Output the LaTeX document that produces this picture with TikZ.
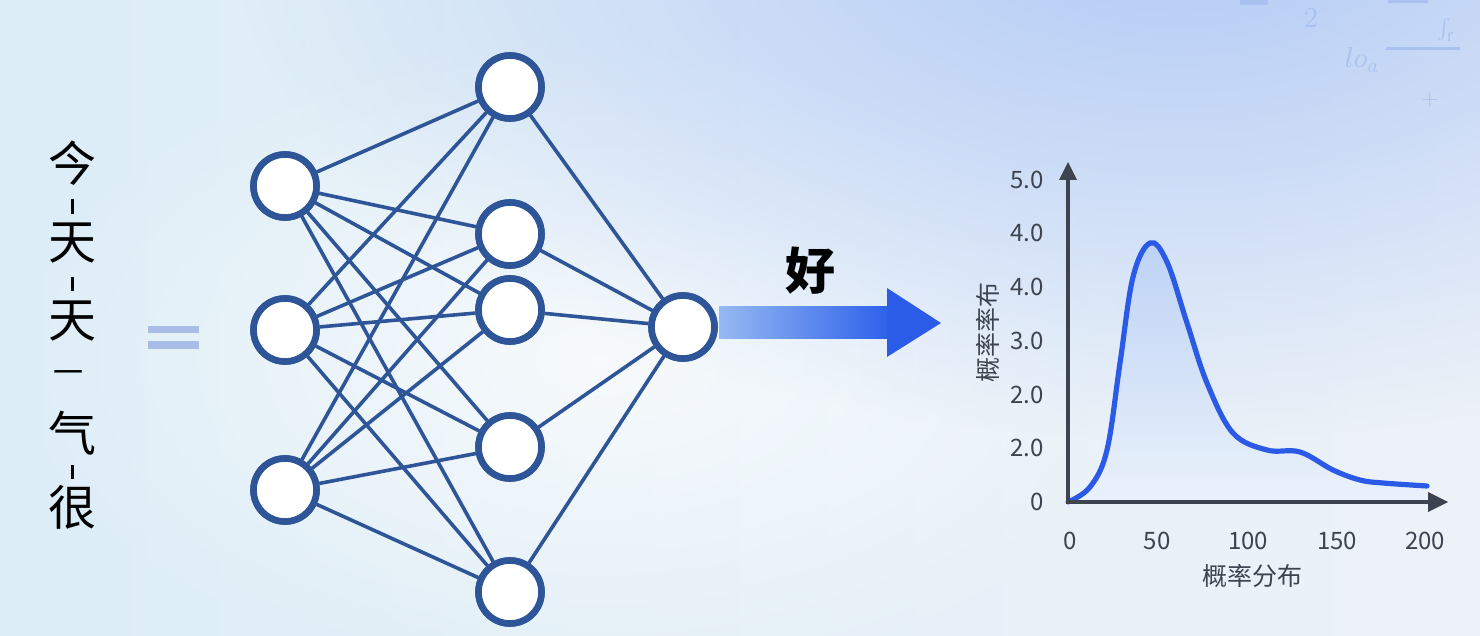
\documentclass[tikz,border=0pt]{standalone}
\usepackage{fontspec}
\setmainfont{Noto Sans CJK SC}
\usetikzlibrary{fadings,shapes.geometric}
\definecolor{netblue}{HTML}{2D5597}
\definecolor{axisgray}{HTML}{3D4450}
\definecolor{curveblue}{HTML}{2B5BE6}
\definecolor{eqblue}{HTML}{A8BEE6}
\definecolor{faintmath}{HTML}{A8C1EF}
\definecolor{bgleft}{HTML}{DCEDF7}
\definecolor{bgright}{HTML}{EDF2F8}
\definecolor{bgblue}{HTML}{B2CAF6}
\definecolor{shaftlight}{HTML}{96B9F3}
\definecolor{shaftdark}{HTML}{2D61EA}
\definecolor{headblue}{HTML}{2A5CE8}
\definecolor{filltop}{HTML}{BDD2F5}
\definecolor{fillbot}{HTML}{EAF2FB}
\tikzfading[name=glow, inner color=transparent!0, outer color=transparent!100]
\begin{document}
\begin{tikzpicture}[x=0.5pt,y=-0.5pt,
  neuron/.style={circle,draw=netblue,line width=3.3pt,fill=white,minimum size=31.5pt,inner sep=0pt},
  link/.style={draw=netblue,line width=1.8pt},
  word/.style={font=\fontsize{24}{24}\selectfont,text=black,inner sep=0pt},
  ticklab/.style={font=\fontsize{12}{12}\selectfont,text=axisgray,inner sep=0pt},
  axislab/.style={font=\fontsize{12.5}{12.5}\selectfont,text=axisgray,inner sep=0pt}]
\useasboundingbox (0,0) rectangle (1480,636);
% background
\shade[left color=bgleft, right color=bgright] (0,0) rectangle (1480,636);
\fill[white,opacity=0.7,path fading=glow] (600,360) ellipse (600 and 330);
\fill[bgblue,path fading=glow] (1180,-80) ellipse (950 and 520);
% faint math decoration
\fill[faintmath] (1240,0) rectangle (1268,5);
\node[text=faintmath,font=\fontsize{14}{14}\selectfont] (m2) at (1311,18) {$2$};
\fill[faintmath] (1388,0) rectangle (1428,3);
\node[text=faintmath,font=\fontsize{12}{12}\selectfont,inner sep=0pt,anchor=north] (mint) at (1446,18) {$\int_{\mathrm{r}}$};
\node[text=faintmath,font=\fontsize{14}{14}\selectfont] (mlog) at (1362,60) {$lo_a$};
\fill[faintmath] (1386,47) rectangle (1460,50);
\node[text=faintmath,font=\fontsize{11}{11}\selectfont] (mplus) at (1430,100) {$+$};
% left vertical text
\node[word] (c1) at (72,163) {今};
\fill[black] (70.5,199) rectangle (73.5,214);
\node[word] (c2) at (72,243) {天};
\fill[black] (70.5,277) rectangle (73.5,291);
\node[word] (c3) at (72,321) {天};
\node[word,font=\fontsize{15}{15}\selectfont] (c4) at (69,377) {一};
\node[word] (c5) at (72,433) {气};
\fill[black] (70.5,465) rectangle (73.5,479);
\node[word] (c6) at (72,507) {很};
% equals
\fill[eqblue] (148,326) rectangle (199,333);
\fill[eqblue] (148,341) rectangle (199,349);
% network nodes
\node[neuron] (i1) at (285,186) {};
\node[neuron] (i2) at (285,330) {};
\node[neuron] (i3) at (285,490) {};
\node[neuron] (h1) at (510,87) {};
\node[neuron] (h2) at (510,234) {};
\node[neuron] (h3) at (510,310) {};
\node[neuron] (h4) at (510,447) {};
\node[neuron] (h5) at (510,592) {};
\node[neuron] (o) at (683,327) {};
\foreach \i in {i1,i2,i3}{
  \foreach \h in {h1,h2,h3,h4,h5}{
    \draw[link] (\i) -- (\h);
  }
}
\foreach \h in {h1,h2,h3,h4,h5}{
  \draw[link] (\h) -- (o);
}
% redraw nodes on top
\node[neuron] at (285,186) {};
\node[neuron] at (285,330) {};
\node[neuron] at (285,490) {};
\node[neuron] at (510,87) {};
\node[neuron] at (510,234) {};
\node[neuron] at (510,310) {};
\node[neuron] at (510,447) {};
\node[neuron] at (510,592) {};
\node[neuron] at (683,327) {};
% output arrow
\coordinate (atip) at (941,323);
\shade[left color=shaftlight, right color=shaftdark] (719,307) rectangle (889,339);
\fill[headblue] (887,288) -- (atip) -- (887,357) -- cycle;
\node[font=\fontsize{25}{25}\selectfont\bfseries,inner sep=0pt] (good) at (810,271) {好};
% chart
\coordinate (org) at (1068,502);
\coordinate (ytop) at (1068,162);
\coordinate (xend) at (1448,502);
\shade[top color=filltop, bottom color=fillbot]
  plot[smooth,tension=0.6] coordinates {(1068,502) (1090,487) (1107,450) (1120,363) (1133,277) (1150,243) (1167,262) (1187,323) (1207,383) (1233,433) (1267,450) (1300,452) (1333,470) (1360,480) (1383,483) (1427,486)} -- (1427,502) -- cycle;
\draw[curveblue,line width=2.6pt,line cap=round] plot[smooth,tension=0.6] coordinates {(1068,502) (1090,487) (1107,450) (1120,363) (1133,277) (1150,243) (1167,262) (1187,323) (1207,383) (1233,433) (1267,450) (1300,452) (1333,470) (1360,480) (1383,483) (1427,486)};
\draw[axisgray,line width=2pt] (org) -- (1068,178);
\fill[axisgray] (1059,180) -- (ytop) -- (1077,180) -- cycle;
\draw[axisgray,line width=2pt] (1066,502) -- (1430,502);
\fill[axisgray] (1428,492) -- (xend) -- (1428,512) -- cycle;
% y ticks
\node[ticklab,anchor=east] (y50) at (1044,180) {5.0};
\node[ticklab,anchor=east] (y40a) at (1044,233) {4.0};
\node[ticklab,anchor=east] (y40b) at (1044,287) {4.0};
\node[ticklab,anchor=east] (y30) at (1044,341) {3.0};
\node[ticklab,anchor=east] (y20a) at (1044,395) {2.0};
\node[ticklab,anchor=east] (y20b) at (1044,448) {2.0};
\node[ticklab,anchor=east] (y0) at (1044,502) {0};
% x ticks
\node[ticklab] (x0) at (1070,541) {0};
\node[ticklab] (x50) at (1157,541) {50};
\node[ticklab] (x100) at (1248,541) {100};
\node[ticklab] (x150) at (1337,541) {150};
\node[ticklab] (x200) at (1425,541) {200};
\node[axislab] (xl) at (1252,576) {概率分布};
\node[axislab,rotate=90] (yl) at (988,333) {概率率布};
\end{tikzpicture}
\end{document}
